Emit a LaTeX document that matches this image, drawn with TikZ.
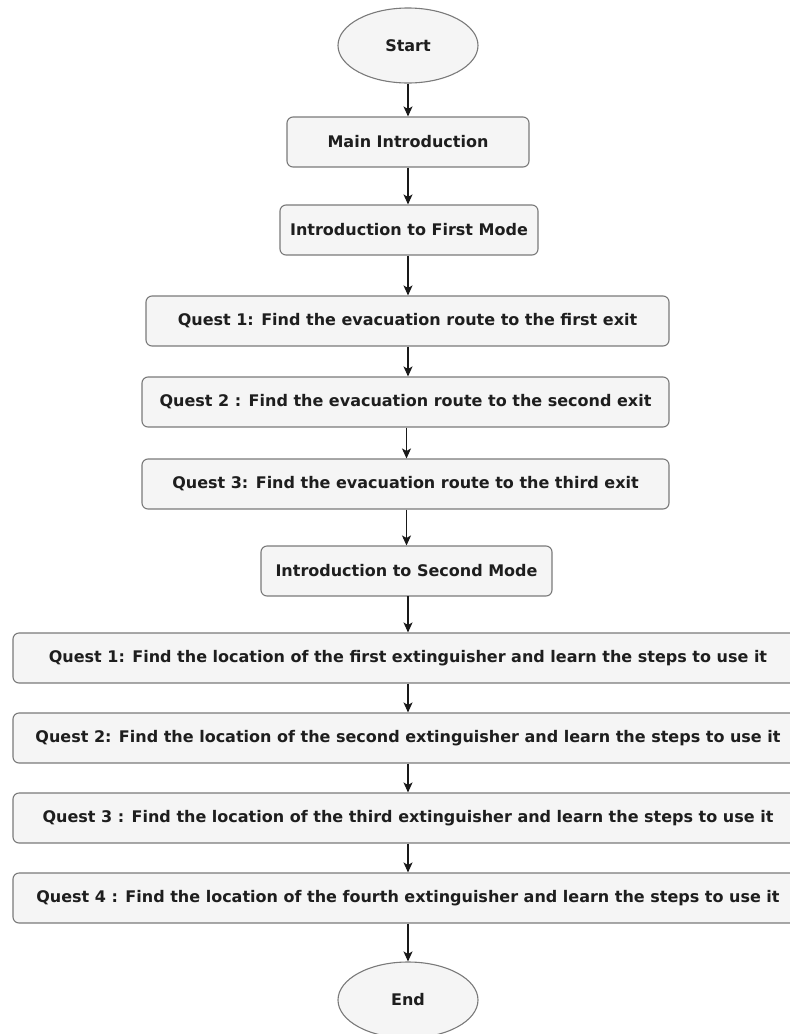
\documentclass[tikz,border=0pt]{standalone}
\usepackage{fontspec}
\usetikzlibrary{arrows.meta,shapes.geometric}
\newfontfamily\boxfont{DejaVu Sans}
\definecolor{boxfill}{HTML}{F5F5F5}
\definecolor{boxline}{HTML}{7A7A7A}
\definecolor{boxtext}{HTML}{1E1E1E}
\begin{document}
\begin{tikzpicture}[x=1pt,y=-1pt,
  every node/.style={font=\boxfont\bfseries\fontsize{16}{19}\selectfont, text=boxtext, inner sep=0pt},
  stepbox/.style={rectangle, rounded corners=6pt, draw=boxline, fill=boxfill, line width=1.1pt, minimum height=50pt},
  termbox/.style={ellipse, draw=boxline, fill=boxfill, line width=1.1pt, minimum width=140pt, minimum height=75pt},
  arr/.style={draw=black!90, line width=1.1pt, -{Stealth[length=10pt,width=9pt,inset=2.5pt]}}
]
\useasboundingbox (0,0) rectangle (790,1034);
\node[termbox] (start) at (408,45.5) {Start};
\node[stepbox, minimum width=242pt] (main) at (408,142) {Main Introduction};
\node[stepbox, minimum width=258pt] (first) at (409,230) {Introduction to First Mode};
\node[stepbox, minimum width=523pt] (q1) at (407.5,321) {Quest 1: Find the evacuation route to the first exit};
\node[stepbox, minimum width=527pt] (q2) at (405.5,402) {Quest 2 : Find the evacuation route to the second exit};
\node[stepbox, minimum width=527pt] (q3) at (405.5,484) {Quest 3: Find the evacuation route to the third exit};
\node[stepbox, minimum width=291pt] (second) at (406.5,571) {Introduction to Second Mode};
\node[stepbox, minimum width=790pt] (w1) at (408,658) {Quest 1: Find the location of the first extinguisher and learn the steps to use it};
\node[stepbox, minimum width=790pt] (w2) at (408,738) {Quest 2: Find the location of the second extinguisher and learn the steps to use it};
\node[stepbox, minimum width=790pt] (w3) at (408,818) {Quest 3 : Find the location of the third extinguisher and learn the steps to use it};
\node[stepbox, minimum width=790pt] (w4) at (408,898) {Quest 4 : Find the location of the fourth extinguisher and learn the steps to use it};
\node[termbox, minimum height=76pt] (end) at (408,1000) {End};
\draw[arr] (start.south) -- (start.south |- main.north);
\draw[arr] (main.south) -- (main.south |- first.north);
\draw[arr] (first.south -| main.south) -- (main.south |- q1.north);
\draw[arr] (q1.south -| main.south) -- (main.south |- q2.north);
\draw[arr] (q2.south -| second.south) -- (second.south |- q3.north);
\draw[arr] (q3.south -| second.south) -- (second.north);
\draw[arr] (second.south) -- (second.south -| w1.north) -- (w1.north);
\draw[arr] (w1.south) -- (w2.north);
\draw[arr] (w2.south) -- (w3.north);
\draw[arr] (w3.south) -- (w4.north);
\draw[arr] (w4.south) -- (end.north);
\end{tikzpicture}
\end{document}
